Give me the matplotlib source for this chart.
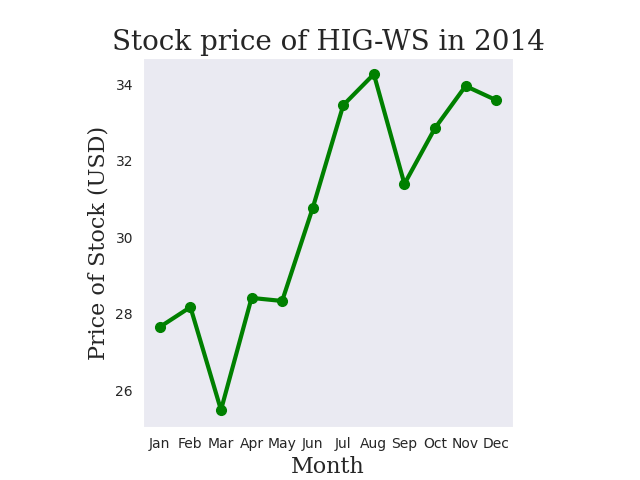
import matplotlib
matplotlib.use("Agg")
import matplotlib.pyplot as plt
import seaborn as sns

months = ["Jan","Feb","Mar","Apr","May","Jun","Jul","Aug","Sep","Oct","Nov","Dec"]
prices = [27.65, 28.17, 25.48, 28.41, 28.33, 30.76, 33.45, 34.26, 31.39, 32.85, 33.95, 33.58]

sns.set_style("dark")
fig = plt.figure(figsize=(6.4, 4.8), dpi=100)
ax = fig.add_axes([0.223, 0.110, 0.579, 0.769])
ax.plot(range(len(months)), prices, color="green", linewidth=3, marker="o", markersize=7)
ax.set_xticks(range(len(months)))
ax.set_xticklabels(months)
ax.set_xlim(-0.56, 11.56)
ax.set_ylim(25.03, 34.68)
ax.set_yticks([26, 28, 30, 32, 34])
ax.set_title("Stock price of HIG-WS in 2014", family="DejaVu Serif", fontsize=20)
ax.set_xlabel("Month", family="DejaVu Serif", fontsize=16)
ax.set_ylabel("Price of Stock (USD)", family="DejaVu Serif", fontsize=16)
fig.savefig("out.png", dpi=100)
